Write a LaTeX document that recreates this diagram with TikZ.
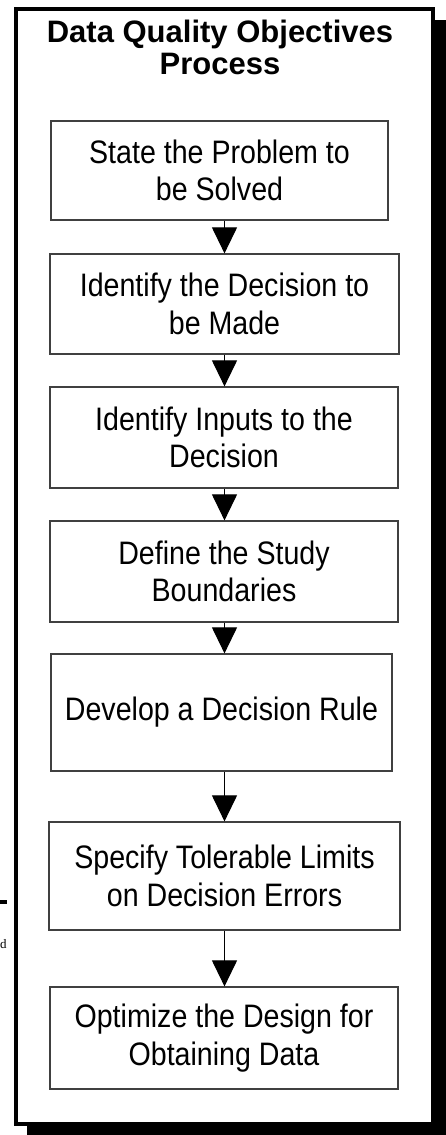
\documentclass[tikz,border=0pt]{standalone}
\usepackage{fontspec}
\setmainfont{Liberation Sans}
\newfontfamily\stepfamily{Liberation Sans}[FakeStretch=0.88]
\newfontfamily\edgefont{Liberation Serif}
\usetikzlibrary{arrows.meta}
\newcommand{\stepfont}{\stepfamily\fontsize{32.5}{37.5}\selectfont}
\newcommand{\headfont}{\fontsize{31}{32}\selectfont\bfseries}

\begin{document}
\begin{tikzpicture}[x=1pt,y=-1pt,
    stepbox/.style={draw=black!75,line width=1.2pt,align=center,font=\stepfont,inner sep=0pt},
    flow/.style={line width=1.1pt,-{Triangle[width=25pt,length=26pt]}}]
  \useasboundingbox (0,0) rectangle (446,1135);
%   shadow and frame
  \fill (27,20) rectangle (452,1140);
  \draw[line width=4pt,fill=white] (16,8.5) rectangle (432.5,1123.5);
%   bits of the page behind
  \draw[line width=4pt] (0,902) -- (7,902);
  \node (edge) at (0,948) [anchor=base west,font=\edgefont\fontsize{13}{13}\selectfont,inner sep=0pt] {d};
  \coordinate (axis) at (224.5,0);
  \node (head) at (220,20) [anchor=north,align=center,font=\headfont,inner sep=0pt] {Data Quality Objectives\\Process};
%   the seven steps
  \node (s1) at (219.5,170.5) [stepbox,minimum width=337pt,minimum height=99pt] {State the Problem to\\be Solved};
  \node (s2) at (224.5,304) [stepbox,minimum width=349pt,minimum height=100pt] {Identify the Decision to\\be Made};
  \node (s3) at (224,437.5) [stepbox,minimum width=348pt,minimum height=101pt] {Identify Inputs to the\\Decision};
  \node (s4) at (224,571.5) [stepbox,minimum width=348pt,minimum height=101pt] {Define the Study\\Boundaries};
  \node (s5) at (221.5,712.5) [stepbox,minimum width=341pt,minimum height=117pt] {Develop a Decision Rule};
  \node (s6) at (224.5,876) [stepbox,minimum width=351pt,minimum height=108pt] {Specify Tolerable Limits\\on Decision Errors};
  \node (s7) at (224,1038) [stepbox,minimum width=348pt,minimum height=102pt] {Optimize the Design for\\Obtaining Data};
%   arrows
  \draw[flow] (s1.south -| axis) -- (s2.north -| axis);
  \draw[flow] (s2.south -| axis) -- (s3.north -| axis);
  \draw[flow] (s3.south -| axis) -- (s4.north -| axis);
  \draw[flow] (s4.south -| axis) -- (s5.north -| axis);
  \draw[flow] (s5.south -| axis) -- (s6.north -| axis);
  \draw[flow] (s6.south -| axis) -- (s7.north -| axis);
\end{tikzpicture}
\end{document}
